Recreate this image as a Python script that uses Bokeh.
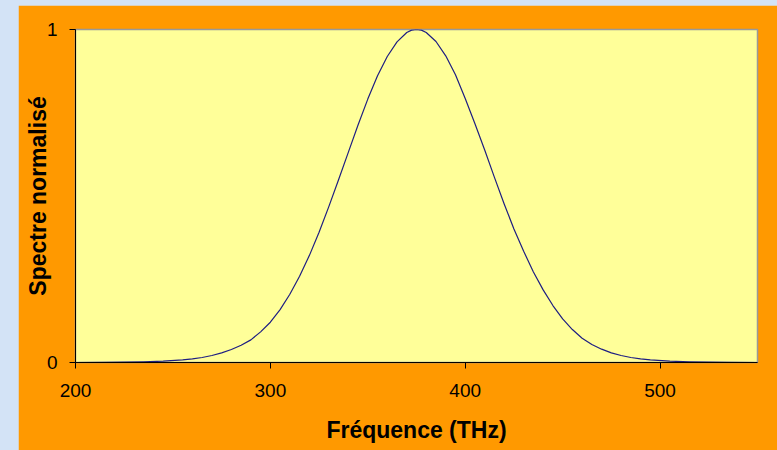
from bokeh.plotting import figure
from bokeh.models import FixedTicker, Div, ColumnDataSource
from bokeh.layouts import row
from bokeh.embed import file_html
from bokeh.resources import INLINE

# Data (normalised spectrum vs frequency)
freq_thz = [200, 215, 225, 235, 245, 255, 260, 265, 270, 275, 280, 285, 290, 295,
            300, 305, 310, 315, 320, 325, 330, 335, 340, 345, 350, 355, 360, 365,
            370, 372.5, 375, 377.5, 380, 385, 390, 395, 400, 405, 410, 415, 420, 425,
            430, 435, 440, 445, 450, 455, 460, 465, 470, 475, 480, 485, 490, 495,
            505, 515, 525, 535, 550]
spectre = [0.0, 0.0005, 0.001, 0.002, 0.004, 0.008, 0.011, 0.015, 0.021, 0.029,
           0.039, 0.052, 0.068, 0.092, 0.121, 0.159, 0.205, 0.259, 0.321, 0.391,
           0.468, 0.549, 0.631, 0.713, 0.791, 0.861, 0.919, 0.963, 0.991, 0.998,
           1.0, 0.998, 0.991, 0.964, 0.921, 0.864, 0.793, 0.717, 0.638, 0.556,
           0.476, 0.401, 0.334, 0.272, 0.218, 0.171, 0.131, 0.099, 0.073, 0.054,
           0.040, 0.029, 0.021, 0.015, 0.011, 0.008, 0.004, 0.002, 0.001, 0.0005,
           0.0]
x_ticks = [200, 300, 400, 500]
y_ticks = [0, 1]

FONT = "Liberation Sans"

src = ColumnDataSource(dict(x=freq_thz, y=spectre))

p = figure(width=759, height=445, x_range=(200, 550), y_range=(0, 1),
           output_backend="svg", toolbar_location=None,
           min_border_left=57, min_border_right=20, min_border_top=24, min_border_bottom=88)
p.margin = (5, 0, 0, 0)
p.background_fill_color = "#FFFF99"
p.border_fill_color = "#FF9900"
p.outline_line_color = "#999999"
p.outline_line_width = 1.5
p.grid.visible = False

p.line("x", "y", source=src, line_color="#1E1E82", line_width=1.2, line_join="round")

p.xaxis.ticker = FixedTicker(ticks=x_ticks)
p.yaxis.ticker = FixedTicker(ticks=y_ticks)
for ax in (p.xaxis[0], p.yaxis[0]):
    ax.axis_line_color = "black"
    ax.axis_line_width = 1
    ax.major_tick_line_color = "black"
    ax.major_tick_in = 0
    ax.minor_tick_line_color = None
    ax.major_label_text_font = FONT
    ax.major_label_text_font_size = "19px"
    ax.major_label_text_color = "black"
    ax.axis_label_text_font = FONT
    ax.axis_label_text_font_style = "bold"
    ax.axis_label_text_font_size = "23px"
    ax.axis_label_text_color = "black"

p.xaxis.major_tick_out = 6
p.xaxis.major_label_standoff = 15
p.xaxis.axis_label = "Fréquence (THz)"
p.xaxis.axis_label_standoff = 17

p.yaxis.major_tick_out = 6
p.yaxis.major_label_standoff = 12
p.yaxis.axis_label = "Spectre normalisé"
p.yaxis.axis_label_standoff = -7

left = Div(width=18, height=450, margin=(0, 0, 0, 0),
           styles={"background-color": "#D3E3F6"})
layout = row(left, p, spacing=0, styles={"background-color": "#D3E3F6"})

open("out.html", "w").write(file_html(layout, INLINE))
